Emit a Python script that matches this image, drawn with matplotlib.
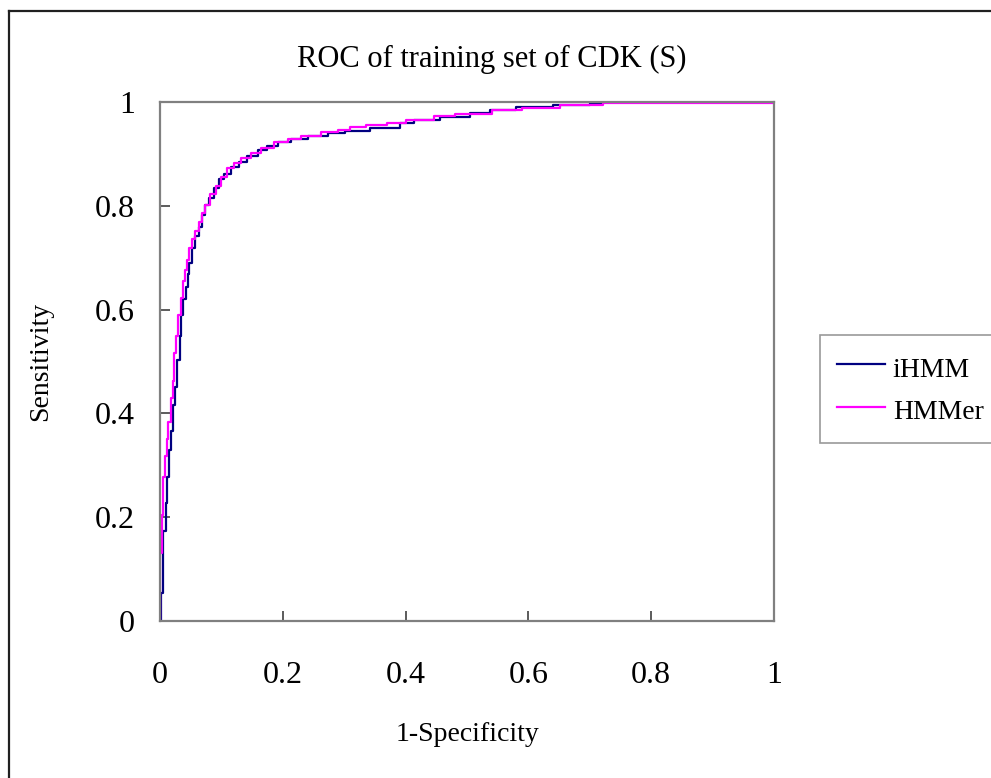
import matplotlib
matplotlib.use("Agg")
import matplotlib.pyplot as plt
from matplotlib.lines import Line2D

# ROC points (false positive rate, true positive rate) for each model
ihmm_fpr = [0.0, 0.0016, 0.0055, 0.0099, 0.012, 0.0153, 0.018, 0.0219, 0.0252,
            0.0285, 0.0318, 0.035, 0.038, 0.0416, 0.045, 0.048, 0.052, 0.0575,
            0.063, 0.0685, 0.074, 0.0795, 0.0877, 0.096, 0.104, 0.115, 0.129,
            0.142, 0.159, 0.175, 0.192, 0.214, 0.241, 0.274, 0.301, 0.342,
            0.391, 0.413, 0.456, 0.505, 0.537, 0.580, 0.640, 0.700, 0.722, 1.0]
ihmm_tpr = [0.0, 0.054, 0.174, 0.227, 0.277, 0.33, 0.367, 0.417, 0.45,
            0.503, 0.55, 0.589, 0.62, 0.643, 0.669, 0.689, 0.719, 0.742,
            0.759, 0.782, 0.802, 0.815, 0.835, 0.852, 0.862, 0.875, 0.885,
            0.895, 0.908, 0.915, 0.922, 0.928, 0.935, 0.94, 0.945, 0.949,
            0.96, 0.965, 0.972, 0.979, 0.985, 0.99, 0.995, 0.998, 1.0, 1.0]

hmmer_fpr = [0.0, 0.0005, 0.0033, 0.0055, 0.0082, 0.011, 0.0137, 0.0175,
             0.0208, 0.0236, 0.0263, 0.0301, 0.034, 0.0373, 0.0405, 0.0438,
             0.048, 0.0526, 0.0575, 0.063, 0.0685, 0.074, 0.0822, 0.0904,
             0.0986, 0.1096, 0.1205, 0.1315, 0.148, 0.164, 0.186, 0.208,
             0.230, 0.263, 0.290, 0.309, 0.335, 0.369, 0.400, 0.446, 0.480,
             0.540, 0.590, 0.652, 0.722, 1.0]
hmmer_tpr = [0.0, 0.131, 0.204, 0.277, 0.317, 0.35, 0.383, 0.43, 0.463,
             0.516, 0.55, 0.589, 0.623, 0.656, 0.676, 0.696, 0.719, 0.736,
             0.752, 0.769, 0.786, 0.802, 0.822, 0.839, 0.855, 0.872, 0.882,
             0.892, 0.902, 0.912, 0.922, 0.928, 0.935, 0.942, 0.947, 0.951,
             0.955, 0.960, 0.966, 0.973, 0.977, 0.984, 0.989, 0.994, 0.998, 1.0]

ticks = [0, 0.2, 0.4, 0.6, 0.8, 1]
tick_labels = ["0", "0.2", "0.4", "0.6", "0.8", "1"]

plt.rcParams["font.family"] = ["Liberation Serif", "DejaVu Serif"]

fig = plt.figure(figsize=(9.91, 7.78), dpi=100)
ax = fig.add_axes([160 / 991, 1 - 621 / 778, 614 / 991, 519 / 778])

ax.plot(ihmm_fpr, ihmm_tpr, drawstyle="steps-post", color="#000080",
        lw=1.6, label="iHMM")
ax.plot(hmmer_fpr, hmmer_tpr, drawstyle="steps-post", color="#FF00FF",
        lw=1.6, label="HMMer")

ax.set_xlim(0, 1)
ax.set_ylim(0, 1)
ax.set_xticks(ticks)
ax.set_xticklabels(tick_labels)
ax.set_yticks(ticks)
ax.set_yticklabels(tick_labels)
ax.tick_params(direction="in", length=7, width=1.2, color="#404040",
               labelsize=23, pad=18)
ax.tick_params(axis="x", pad=29)
for s in ax.spines.values():
    s.set_color("#808080")
    s.set_linewidth(1.6)

ax.set_xlabel("1-Specificity", fontsize=20, labelpad=23)
ax.set_ylabel("Sensitivity", fontsize=20, labelpad=30)
fig.text(492 / 991, 1 - 67 / 778, "ROC of training set of CDK (S)",
         ha="center", va="baseline", fontsize=22)

leg = ax.legend(loc="upper left", bbox_to_anchor=(820 / 991, 1 - 335 / 778),
                bbox_transform=fig.transFigure, fontsize=20, frameon=True,
                fancybox=False, borderaxespad=0, handlelength=1.73,
                handleheight=1.37, handletextpad=0.29, borderpad=0.6,
                labelspacing=0.4)
leg.get_frame().set_edgecolor("#808080")
leg.get_frame().set_linewidth(1.2)

# outer frame edges along the left and top of the figure
fig.add_artist(Line2D([9 / 991, 9 / 991], [0, 1 - 11 / 778],
                      transform=fig.transFigure, color="#202020", lw=1.6))
fig.add_artist(Line2D([9 / 991, 1], [1 - 11 / 778, 1 - 11 / 778],
                      transform=fig.transFigure, color="#202020", lw=1.6))

fig.savefig("out.png", dpi=100)
